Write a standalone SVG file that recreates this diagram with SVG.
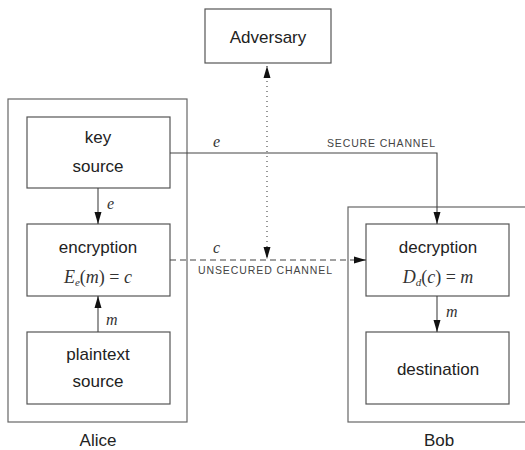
<svg xmlns="http://www.w3.org/2000/svg" width="525" height="450" viewBox="0 0 525 450">
<style>
.box{fill:#fff;stroke:#555;stroke-width:1.2}
.outer{fill:none;stroke:#666;stroke-width:1.2}
.t{font-family:"Liberation Sans",Arial,sans-serif;font-size:17px;fill:#222;text-anchor:middle}
.m{font-family:"Liberation Serif","Times New Roman",serif;font-size:18px;fill:#333;text-anchor:middle}
.mi{font-style:italic}
.lbl{font-family:"Liberation Serif","Times New Roman",serif;font-style:italic;font-size:16px;fill:#333}
.cap{font-family:"Liberation Sans",Arial,sans-serif;font-size:10.5px;fill:#444}
.ln{fill:none;stroke:#444;stroke-width:1.1}
</style>
<defs>
<marker id="ah" viewBox="0 0 12 10" refX="12" refY="5" markerWidth="12" markerHeight="10" markerUnits="userSpaceOnUse" orient="auto">
<path d="M0,1.5 L12,5 L0,8.5 Z" fill="#111"/>
</marker>
<marker id="ahs" viewBox="0 0 12 10" refX="12" refY="5" markerWidth="12" markerHeight="10" markerUnits="userSpaceOnUse" orient="auto-start-reverse">
<path d="M0,1.5 L12,5 L0,8.5 Z" fill="#111"/>
</marker>
</defs>
<rect width="525" height="450" fill="#fff"/>
<g id="alice">
<rect class="outer" x="8" y="99" width="179" height="323"/>
<text class="t" x="98" y="446">Alice</text>
</g>
<g id="bob">
<rect class="outer" x="348" y="207" width="190" height="215"/>
<text class="t" x="439" y="446">Bob</text>
</g>
<g id="adversary">
<rect class="box" x="205" y="9" width="126" height="54"/>
<text class="t" x="268" y="43">Adversary</text>
</g>
<g id="key-source">
<rect class="box" x="27" y="117" width="143" height="71"/>
<text class="t" x="98" y="143">key</text>
<text class="t" x="98" y="172">source</text>
</g>
<g id="encryption">
<rect class="box" x="27" y="224" width="143" height="72"/>
<text class="t" x="98" y="253">encryption</text>
<text class="m" x="98" y="283"><tspan class="mi">E</tspan><tspan class="mi" font-size="11" dy="3">e</tspan><tspan dy="-3">(</tspan><tspan class="mi">m</tspan>) = <tspan class="mi">c</tspan></text>
</g>
<g id="plaintext-source">
<rect class="box" x="27" y="332" width="143" height="72"/>
<text class="t" x="98" y="360">plaintext</text>
<text class="t" x="98" y="387">source</text>
</g>
<g id="decryption">
<rect class="box" x="366" y="224" width="143" height="72"/>
<text class="t" x="438" y="253">decryption</text>
<text class="m" x="438" y="283"><tspan class="mi">D</tspan><tspan class="mi" font-size="11" dy="3">d</tspan><tspan dy="-3">(</tspan><tspan class="mi">c</tspan>) = <tspan class="mi">m</tspan></text>
</g>
<g id="destination">
<rect class="box" x="366" y="332" width="143" height="72"/>
<text class="t" x="438" y="375">destination</text>
</g>
<g id="connectors">
<path class="ln" d="M170,153 H437 V224" marker-end="url(#ah)"/>
<path class="ln" d="M98,188 V224" marker-end="url(#ah)"/>
<path class="ln" d="M98,332 V296" marker-end="url(#ah)"/>
<path class="ln" d="M437,296 V332" marker-end="url(#ah)"/>
<path class="ln" d="M170,260 H366" stroke-dasharray="6 4" marker-end="url(#ah)"/>
<path class="ln" d="M267,66 V259" stroke-dasharray="1 4" stroke="#777" marker-start="url(#ahs)" marker-end="url(#ah)"/>
<text class="lbl" x="213" y="147">e</text>
<text class="lbl" x="107" y="209">e</text>
<text class="lbl" x="213" y="253">c</text>
<text class="lbl" x="106" y="325">m</text>
<text class="lbl" x="446" y="317">m</text>
<text class="cap" x="327" y="147" textLength="108" lengthAdjust="spacing">SECURE CHANNEL</text>
<text class="cap" x="198" y="274" textLength="134" lengthAdjust="spacing">UNSECURED CHANNEL</text>
</g>
</svg>
